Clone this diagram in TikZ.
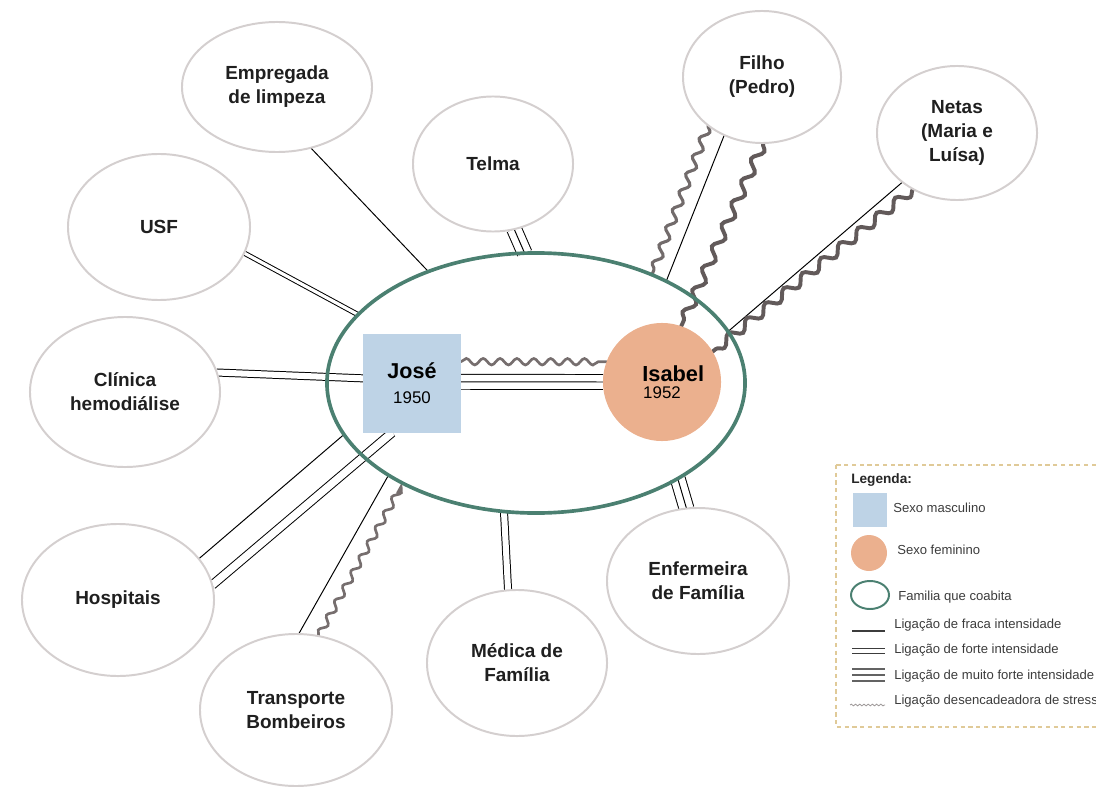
\documentclass[tikz,border=0pt]{standalone}
\usepackage{fontspec}
\setmainfont{Liberation Sans}
\usepackage{tikz}
\usetikzlibrary{shapes.geometric,decorations.pathmorphing}
\pgfdeclarelayer{bg}
\pgfsetlayers{bg,main}
\definecolor{famgreen}{RGB}{75,128,113}
\definecolor{josefill}{RGB}{190,211,230}
\definecolor{isafill}{RGB}{235,176,142}
\definecolor{ringgray}{RGB}{212,207,207}
\definecolor{wavegray}{RGB}{118,110,110}
\definecolor{wavedark}{RGB}{98,90,90}
\definecolor{legtan}{RGB}{224,202,152}
\definecolor{legtxt}{RGB}{60,60,60}

\begin{document}
\begin{tikzpicture}[x=0.025cm, y=-0.025cm,
	sat/.style={ellipse, draw=ringgray, line width=1.4pt, fill=white, align=center, inner sep=0pt, outer sep=0pt, text=black!88, font=\fontsize{13.5}{17}\selectfont\bfseries},
	fraca/.style={line width=0.7pt},
	forte/.style={line width=#1+0.7pt, postaction={draw=white, line width=#1-0.7pt}},
	forte/.default=5pt,
	muitoforte/.style={line width=11.3pt, postaction={draw=white, line width=9.9pt}, postaction={draw=black, line width=0.7pt}},
	stress/.style={decorate, decoration={snake, segment length=12pt, amplitude=2.3pt}, draw=wavegray, line width=1.9pt, line cap=round},
	stressforte/.style={stress, decoration={snake, segment length=17pt, amplitude=3.3pt}, draw=wavedark, line width=2.8pt},
	legtext/.style={anchor=west, inner sep=0pt, text=legtxt, font=\fontsize{9.3}{11}\selectfont}]
	\useasboundingbox (0,0) rectangle (1096,787);
	\clip (0,0) rectangle (1096,787);

	\node[ellipse, draw=famgreen, line width=2.6pt, minimum width=10.45cm, minimum height=6.5cm, inner sep=0pt, outer sep=0pt] (fam) at (536,383) {};
	\node[fill=josefill, minimum size=2.45cm, inner sep=0pt, outer sep=0pt, align=center, font=\fontsize{12}{14}\selectfont] (jose) at (412,383.5) {{\fontsize{15.3}{14}\selectfont\bfseries José}\\[3.7pt]1950};
	\node[circle, fill=isafill, minimum size=2.95cm, inner sep=0pt, outer sep=0pt, align=center, font=\fontsize{12}{14}\selectfont] (isabel) at (662,382) {\hspace*{16pt}{\fontsize{15.5}{14}\selectfont\bfseries Isabel}\\[-2pt]1952};

	\node[sat, minimum width=4.75cm, minimum height=3.25cm] (emp) at (277,87) {Empregada\\de limpeza};
	\node[sat, minimum width=4cm, minimum height=3.375cm] (telma) at (493,164) {Telma};
	\node[sat, minimum width=3.95cm, minimum height=3.3cm] (filho) at (762,77) {Filho\\(Pedro)};
	\node[sat, minimum width=4cm, minimum height=3.35cm] (netas) at (957,133) {Netas\\(Maria e\\Luísa)};
	\node[sat, minimum width=4.55cm, minimum height=3.65cm] (usf) at (159,227) {USF};
	\node[sat, minimum width=4.75cm, minimum height=3.75cm] (clinica) at (125,392) {Clínica\\hemodiálise};
	\node[sat, minimum width=4.8cm, minimum height=3.8cm] (hosp) at (118,600) {Hospitais};
	\node[sat, minimum width=4.8cm, minimum height=3.8cm] (transp) at (296,710) {Transporte\\Bombeiros};
	\node[sat, minimum width=4.5cm, minimum height=3.65cm] (medica) at (517,663) {Médica de\\Família};
	\node[sat, minimum width=4.55cm, minimum height=3.65cm] (enf) at (698,581) {Enfermeira\\de Família};

	\begin{pgfonlayer}{bg}
		\draw[fraca] (emp.-61) -- (fam.134.5);
		\draw[forte=3pt] (usf.-17) -- (fam.159);
		\draw[muitoforte] (telma.-72) -- (fam.95);
		\draw[forte] (clinica.12) -- (jose.174);
		\draw[fraca] (hosp.27) -- (fam.195);
		\draw[forte=6pt] (hosp.9) -- (jose.-112);
		\draw[fraca] (transp.88) -- (fam.212);
		\draw[stress, shorten >=8pt] (transp.73) -- (fam.217);
		\draw[forte] (medica.97) -- (fam.256);
		\draw[muitoforte] (enf.99) -- (fam.326);
		\draw[stress, draw=wavedark!90, line width=2.2pt, decoration={snake, segment length=13.5pt, amplitude=2.8pt}] (filho.222) -- (fam.43);
		\draw[fraca] (filho.237) -- (fam.38);
		\draw[stressforte] (filho.271) -- (isabel.71);
		\draw[fraca] (netas.222) -- (fam.15.5);
		\draw[stressforte] (netas.232) -- (isabel.31);
		\draw[stress] (jose.24) -- (isabel.160);
		\draw[muitoforte] (jose.2) -- (isabel.180);
	\end{pgfonlayer}

	\draw[legtan, line width=1.2pt, dash pattern=on 3pt off 2.5pt] (836,465) rectangle (1110,727);
	\node[legtext, font=\fontsize{9.7}{11}\selectfont\bfseries, text=black!85] (legenda) at (851,480) {Legenda:};
	\node[fill=josefill, minimum size=0.85cm, inner sep=0pt] (lmasc) at (870,510) {};
	\node[legtext] (tmasc) at (893,508) {Sexo masculino};
	\node[circle, fill=isafill, minimum size=0.9cm, inner sep=0pt] (lfem) at (869,553) {};
	\node[legtext] (tfem) at (897,550) {Sexo feminino};
	\node[ellipse, draw=famgreen, line width=1.4pt, minimum width=0.95cm, minimum height=0.7cm, inner sep=0pt] (lfam) at (870,595) {};
	\node[legtext] (tfam) at (898,597) {Familia que coabita};
	\draw[legtxt, line width=0.9pt] (852,631) -- (885,631);
	\node[legtext] (tfraca) at (894,625) {Ligação de fraca intensidade};
	\draw[legtxt, line width=0.7pt] (852,648) -- (885,648) (852,653) -- (885,653);
	\node[legtext] (tforte) at (894,650) {Ligação de forte intensidade};
	\draw[legtxt!80, line width=1.5pt] (852,669) -- (885,669) (852,675) -- (885,675) (852,681) -- (885,681);
	\node[legtext] (tmuito) at (894,676) {Ligação de muito forte intensidade};
	\draw[wavegray!70, line width=0.6pt, decorate, decoration={snake, segment length=3pt, amplitude=0.6pt}] (850,705) -- (885,705);
	\node[legtext] (tstress) at (894,701) {Ligação desencadeadora de stress};
\end{tikzpicture}
\end{document}
